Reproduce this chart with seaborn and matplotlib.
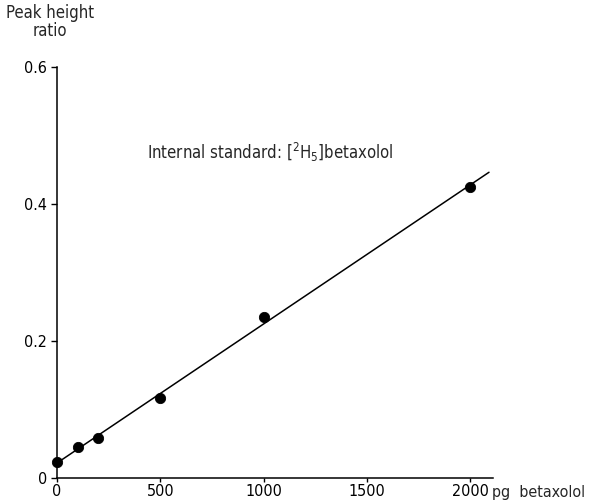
import numpy as np
import pandas as pd
import matplotlib
matplotlib.use('Agg')
import matplotlib.pyplot as plt
import seaborn as sns

# calibration data
amount_pg = [0, 100, 200, 500, 1000, 2000]
peak_ratio = [0.023, 0.045, 0.058, 0.117, 0.235, 0.425]
x_ticks = [0, 500, 1000, 1500, 2000]
y_ticks = [0, 0.2, 0.4, 0.6]
y_tick_labels = ['0', '0.2', '0.4', '0.6']

df = pd.DataFrame({'amount': amount_pg, 'ratio': peak_ratio})

sns.set_style('ticks')
plt.rcParams['font.family'] = ['DejaVu Sans']
plt.rcParams['font.stretch'] = 'condensed'

fig = plt.figure(figsize=(5.91, 5.03), dpi=100)
ax = fig.add_axes([0.0964, 0.0497, 0.738, 0.817])

# least-squares calibration line, drawn a bit past the last standard
slope, intercept = np.polyfit(df['amount'], df['ratio'], 1)
line_x = np.array([0, 2090])
sns.lineplot(x=line_x, y=slope * line_x + intercept, ax=ax, color='black', lw=1.1)
sns.scatterplot(data=df, x='amount', y='ratio', ax=ax, color='black', s=55,
                edgecolor='black', zorder=3, clip_on=False)

ax.set_xlim(0, 2110)
ax.set_ylim(0, 0.6)
ax.set_xticks(x_ticks)
ax.set_xticklabels([str(t) for t in x_ticks], fontsize=11.5)
ax.set_yticks(y_ticks)
ax.set_yticklabels(y_tick_labels, fontsize=11.5)
ax.tick_params(axis='x', direction='out', length=3, width=1, colors='black', pad=1.5)
ax.tick_params(axis='y', direction='out', length=4, width=1, colors='black', pad=3)
ax.set_xlabel('')
ax.set_ylabel('')
sns.despine(ax=ax)
for s in ['left', 'bottom']:
    ax.spines[s].set_linewidth(1.1)
    ax.spines[s].set_color('black')

fig.text(0.085, 0.992, 'Peak height\nratio', ha='center', va='top', fontsize=12,
         linespacing=1.0)
fig.text(0.832, 0.006, 'pg  betaxolol', ha='left', va='bottom', fontsize=11.5)
ax.text(435, 0.476, r'Internal standard: [$^2$H$_5$]betaxolol', ha='left', va='center',
        fontsize=12)

fig.savefig('out.png', dpi=100)
